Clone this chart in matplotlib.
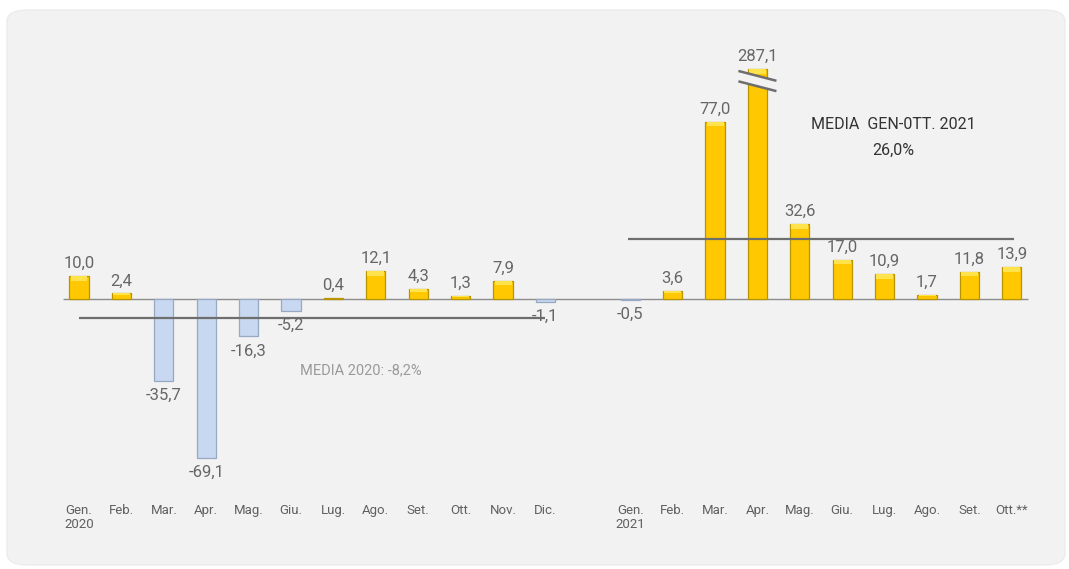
import matplotlib.pyplot as plt
from matplotlib.patches import FancyBboxPatch, Polygon

plt.rcParams['font.family'] = ['Roboto', 'DejaVu Sans']

# dati
mesi_2020 = ["Gen.\n2020", "Feb.", "Mar.", "Apr.", "Mag.", "Giu.", "Lug.", "Ago.", "Set.", "Ott.", "Nov.", "Dic."]
valori_2020 = [10.0, 2.4, -35.7, -69.1, -16.3, -5.2, 0.4, 12.1, 4.3, 1.3, 7.9, -1.1]
mesi_2021 = ["Gen.\n2021", "Feb.", "Mar.", "Apr.", "Mag.", "Giu.", "Lug.", "Ago.", "Set.", "Ott.**"]
valori_2021 = [-0.5, 3.6, 77.0, 287.1, 32.6, 17.0, 10.9, 1.7, 11.8, 13.9]
media_2020 = -8.2
media_2021 = 26.0
taglio = 100  # altezza disegnata della barra fuori scala

sfondo = "#f2f2f2"
giallo = "#ffc800"
bordo_giallo = "#b89400"
azzurro = "#c8d8f0"
bordo_azzurro = "#97a8c2"

x_2020 = list(range(len(mesi_2020)))
x_2021 = [i + len(mesi_2020) + 1 for i in range(len(mesi_2021))]
xs = x_2020 + x_2021
valori = valori_2020 + valori_2021
etichette = mesi_2020 + mesi_2021

fig = plt.figure(figsize=(10.69, 5.69), dpi=100)
fig.patch.set_facecolor("white")
pannello = FancyBboxPatch((7 / 1069, 4 / 569), 1058 / 1069, 555 / 569,
                          boxstyle="round,pad=0,rounding_size=0.02",
                          transform=fig.transFigure, facecolor=sfondo,
                          edgecolor="#ececec", linewidth=1, zorder=-5)
fig.patches.append(pannello)

ax = fig.add_axes([30 / 1069, 89 / 569, 1020 / 1069, 440 / 569])
ax.set_facecolor("none")
ax.set_zorder(1)

altezze = [min(v, taglio) for v in valori]
colori = [giallo if v >= 0 else azzurro for v in valori]
bordi = [bordo_giallo if v >= 0 else bordo_azzurro for v in valori]
ax.bar(xs, altezze, width=0.45, color=colori, edgecolor=bordi, linewidth=0.9, zorder=3)

# riflesso chiaro in cima alle barre gialle
for x, h, v in zip(xs, altezze, valori):
    if v > 1:
        ax.bar(x, min(2.0, h * 0.25), bottom=h - min(2.0, h * 0.25), width=0.4,
               color="#ffe34d", linewidth=0, zorder=4)

# linea dello zero
ax.hlines(0, xs[0] - 0.38, xs[-1] + 0.38, color="#8c8c8c", linewidth=1, zorder=2)

# medie
ax.hlines(media_2020, x_2020[0], x_2020[-1], color="#6e6e6e", linewidth=1.6, zorder=5)
ax.hlines(media_2021, x_2021[0] - 0.05, x_2021[-1] + 0.05, color="#6e6e6e", linewidth=1.6, zorder=5)

# etichette dei valori
for x, h, v in zip(xs, altezze, valori):
    testo = f"{v:.1f}".replace(".", ",")
    if v >= 0:
        ax.annotate(testo, (x, h), xytext=(0, 3.5), textcoords="offset points",
                    ha="center", va="bottom", fontsize=12, color="#666666", zorder=6)
    else:
        ax.annotate(testo, (x, h), xytext=(0, -5), textcoords="offset points",
                    ha="center", va="top", fontsize=12, color="#666666", zorder=6)

# segno di interruzione sulla barra fuori scala
i_max = valori.index(max(valori))
xb = xs[i_max]
sopra = [(xb - 0.42, taglio - 1), (xb + 0.42, taglio - 5)]
sotto = [(xb - 0.42, taglio - 5.5), (xb + 0.42, taglio - 9.5)]
ax.add_patch(Polygon(sopra + sotto[::-1], closed=True, facecolor=sfondo, edgecolor="none", zorder=7))
ax.plot(*zip(*sopra), color="#6e6e6e", linewidth=1.8, zorder=8)
ax.plot(*zip(*sotto), color="#6e6e6e", linewidth=1.8, zorder=8)

ax.text(5.2, -31, "MEDIA 2020: -8,2%", fontsize=10.5, color="#9a9a9a", ha="left", va="center")
ax.text(19.21, 76, "MEDIA  GEN-0TT. 2021", fontsize=11.5, color="#333333", ha="center", va="center")
ax.text(19.21, 64.5, "26,0%", fontsize=11.5, color="#333333", ha="center", va="center")

ax.set_xlim(-1.156, 22.9)
ax.set_ylim(-78.7, 112.6)
ax.set_xticks(xs)
ax.set_xticklabels(etichette, fontsize=9.5, color="#606060", linespacing=1.1)
ax.tick_params(axis="x", length=0, pad=17)
ax.set_yticks([])
for s in ax.spines.values():
    s.set_visible(False)

fig.savefig("out.png", dpi=100, facecolor=fig.get_facecolor())
